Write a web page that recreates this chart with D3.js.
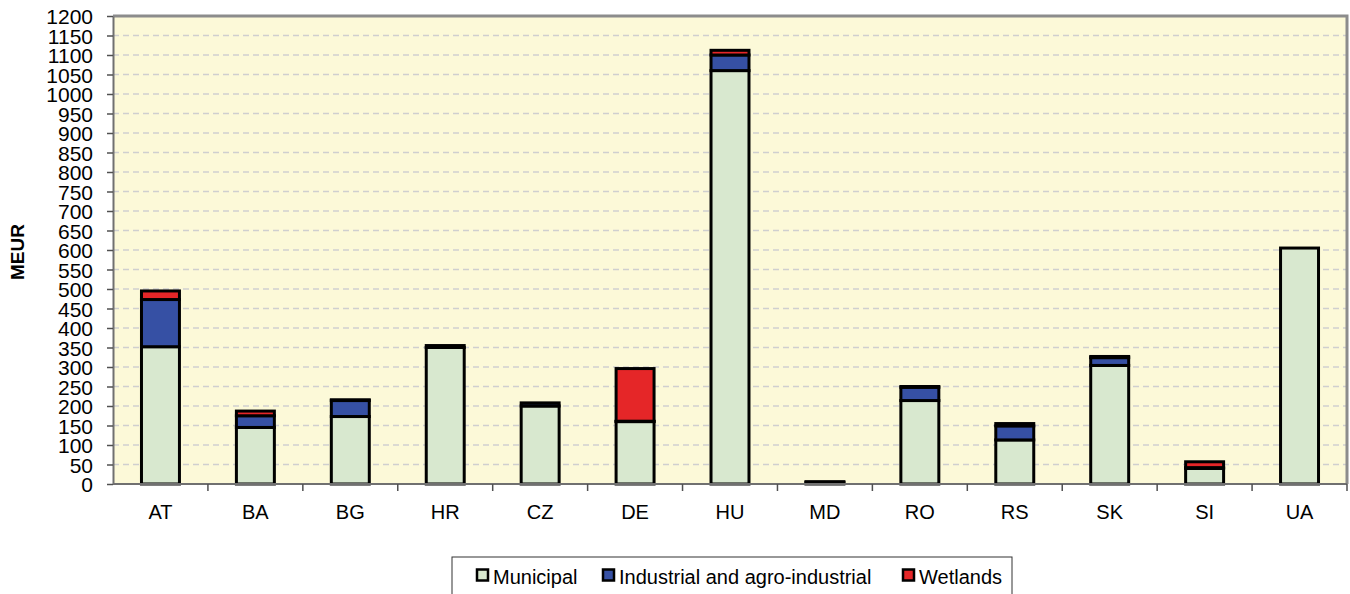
<!DOCTYPE html>
<html>
<head>
<meta charset="utf-8">
<script src="https://cdn.jsdelivr.net/npm/d3@7"></script>
<style>
	body { margin: 0; background: #fff; }
	svg { display: block; font-family: "Liberation Sans", Arial, sans-serif; }
</style>
</head>
<body>
<div id="graph"></div>
<script>
// Countries along the x axis:
let countries = ["AT", "BA", "BG", "HR", "CZ", "DE", "HU", "MD", "RO", "RS", "SK", "SI", "UA"];
// MEUR per country:
let municipal  = [352, 145, 173, 350, 200, 160, 1060, 4, 214, 113, 304, 40, 605];
let industrial = [121,  30,  41,   5,   8,   1,   40, 2,  34,  36,  20,  2,   0];
let wetlands   = [ 22,  12,   2,   0,   0, 135,   12, 0,   2,   6,   3, 15,   0];
let seriesNames = ["Municipal", "Industrial and agro-industrial", "Wetlands"];
let seriesKeys = ["municipal", "industrial", "wetlands"];
let yTicks = d3.range(0, 1201, 50);

let width = 1350;
let height = 594;
let padding = { top: 16, right: 3, bottom: 110, left: 113 };
let colours = ["#d8e8cf", "#3650a4", "#e52628"];

let data = countries.map((c, i) => ({
	country: c,
	municipal: municipal[i],
	industrial: industrial[i],
	wetlands: wetlands[i]
	}));

let svg = d3.select("#graph")
	.append("svg")
		.attr("width", width)
		.attr("height", height)
	;

let xScale = d3.scaleBand()
	.domain(countries)
	.range([padding.left, width - padding.right])
	.paddingInner(0.6)
	.paddingOuter(0.3)
	;
let xBand = d3.scaleBand()
	.domain(countries)
	.range([padding.left, width - padding.right])
	;
let yScale = d3.scaleLinear()
	.domain([0, 1200])
	.range([height - padding.bottom, padding.top])
	;

// Plot background:
svg.append("rect")
	.attr("x", padding.left)
	.attr("y", padding.top)
	.attr("width", width - padding.right - padding.left)
	.attr("height", yScale(0) - padding.top)
	.attr("fill", "#fcf9d8")
	;

// Dashed gridlines:
svg.append("g")
	.selectAll("line")
	.data(yTicks.filter(d => d > 0 && d < 1200))
	.enter()
		.append("line")
			.attr("x1", padding.left)
			.attr("x2", width - padding.right)
			.attr("y1", d => yScale(d))
			.attr("y2", d => yScale(d))
			.attr("stroke", "#cfcfcf")
			.attr("stroke-width", 1.5)
			.attr("stroke-dasharray", "6,4")
	;

// Top and right frame:
svg.append("path")
	.attr("d", `M${padding.left},${padding.top}H${width - padding.right}V${yScale(0)}`)
	.attr("fill", "none")
	.attr("stroke", "#8c8c8c")
	.attr("stroke-width", 3)
	;

// Stacked bars:
let stack = d3.stack().keys(seriesKeys);
let layers = stack(data);

svg.append("g")
	.selectAll("g")
	.data(layers)
	.enter()
		.append("g")
			.attr("fill", (d, i) => colours[i])
		.selectAll("rect")
		.data(d => d)
		.enter()
			.append("rect")
				.attr("x", d => xScale(d.data.country))
				.attr("y", d => yScale(d[1]))
				.attr("width", xScale.bandwidth())
				.attr("height", d => yScale(d[0]) - yScale(d[1]))
				.attr("stroke", "black")
				.attr("stroke-width", 3)
	;

// yAxis
let yAxis = d3.axisLeft(yScale)
	.tickValues(yTicks)
	.tickSize(6)
	.tickSizeOuter(0)
	.tickFormat(d3.format("d"))
	;
let gy = svg.append("g")
	.attr("transform", `translate(${padding.left}, 0)`)
	.call(yAxis)
	;
gy.select(".domain").attr("stroke", "#707070").attr("stroke-width", 2);
gy.selectAll(".tick line").attr("stroke", "#505050").attr("stroke-width", 1.5);
gy.selectAll(".tick text")
	.attr("x", -20)
	.attr("dy", "0.36em")
	.style("font-size", "21px")
	.attr("fill", "#000")
	;

// xAxis with ticks at category boundaries:
let gx = svg.append("g")
	.attr("transform", `translate(0, ${yScale(0)})`)
	;
gx.append("line")
	.attr("x1", padding.left)
	.attr("x2", width - padding.right)
	.attr("stroke", "#707070")
	.attr("stroke-width", 2)
	;
gx.selectAll(".xtick")
	.data(countries)
	.enter()
		.append("line")
			.attr("x1", d => xBand(d) + xBand.bandwidth())
			.attr("x2", d => xBand(d) + xBand.bandwidth())
			.attr("y1", 0)
			.attr("y2", 7)
			.attr("stroke", "#505050")
			.attr("stroke-width", 1.5)
	;
gx.selectAll(".xlabel")
	.data(countries)
	.enter()
		.append("text")
			.attr("x", d => xScale(d) + xScale.bandwidth() / 2)
			.attr("y", 34.5)
			.attr("text-anchor", "middle")
			.style("font-size", "20px")
			.attr("fill", "#000")
			.text(d => d)
	;

// Label yAxis
svg.append("text")
	.text("MEUR")
	.attr("transform", `translate(24, 252) rotate(-90)`)
	.attr("text-anchor", "middle")
	.style("font-size", "19px")
	.style("font-weight", "bold")
	;

// Legend
let legend = svg.append("g");
legend.append("rect")
	.attr("x", 452)
	.attr("y", 557)
	.attr("width", 560)
	.attr("height", 50)
	.attr("fill", "white")
	.attr("stroke", "#333")
	.attr("stroke-width", 1)
	;
let legendX = [477, 603, 903];
seriesNames.forEach((name, i) => {
	legend.append("rect")
		.attr("x", legendX[i])
		.attr("y", 569.5)
		.attr("width", 11)
		.attr("height", 11)
		.attr("fill", colours[i])
		.attr("stroke", "black")
		.attr("stroke-width", 2.5)
		;
	legend.append("text")
		.attr("x", legendX[i] + 16)
		.attr("y", 584)
		.style("font-size", "20px")
		.attr("fill", "#000")
		.text(name)
		;
	});
</script>
</body>
</html>
